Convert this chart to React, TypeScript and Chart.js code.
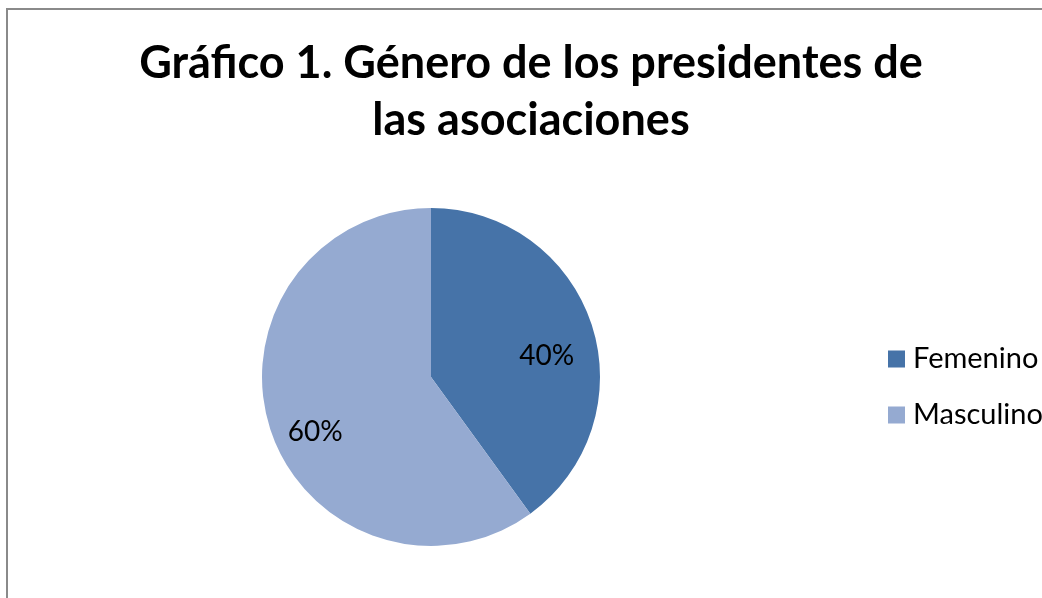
import React, { useEffect, useRef } from "react";
import { Chart, registerables } from "chart.js";

Chart.register(...registerables);

const titleLines = ["Gráfico 1. Género de los presidentes de", "las asociaciones"];
const categories = ["Femenino", "Masculino"];
const values = [40, 60];
const colors = ["#4673A8", "#95AAD1"];
const FONT = "Lato, 'Open Sans', sans-serif";

const titleDraw = {
  id: "titleDraw",
  afterDraw(chart: any) {
    const ctx = chart.ctx;
    const cx = chart.width / 2;
    ctx.save();
    ctx.font = `bold 45px ${FONT}`;
    ctx.fillStyle = "#000";
    ctx.textAlign = "center";
    ctx.textBaseline = "middle";
    titleLines.forEach((t, i) => ctx.fillText(t, cx, 63 + i * 57));
    ctx.restore();
  },
};

const pctLabels = {
  id: "pctLabels",
  afterDatasetsDraw(chart: any) {
    const ctx = chart.ctx;
    const meta = chart.getDatasetMeta(0);
    const data = chart.data.datasets[0].data as number[];
    const total = data.reduce((a, b) => a + b, 0);
    ctx.save();
    ctx.font = `28px ${FONT}`;
    ctx.fillStyle = "#000";
    ctx.textAlign = "center";
    ctx.textBaseline = "middle";
    meta.data.forEach((arc: any, i: number) => {
      const p = arc.getProps(["x", "y", "startAngle", "endAngle", "outerRadius"], true);
      const mid = (p.startAngle + p.endAngle) / 2;
      const r = p.outerRadius * 0.72;
      const x = p.x + Math.cos(mid) * r;
      const y = p.y + Math.sin(mid) * r + 17;
      ctx.fillText(Math.round((data[i] / total) * 100) + "%", x, y);
    });
    ctx.restore();
  },
};

const sideLegend = {
  id: "sideLegend",
  afterDraw(chart: any) {
    const ctx = chart.ctx;
    const x0 = 888;
    const y0 = 359;
    const gap = 56;
    const box = 17;
    ctx.save();
    ctx.font = `29px ${FONT}`;
    ctx.textBaseline = "middle";
    ctx.textAlign = "left";
    categories.forEach((c, i) => {
      const y = y0 + i * gap;
      ctx.fillStyle = colors[i];
      ctx.fillRect(x0, y - box / 2, box, box);
      ctx.fillStyle = "#000";
      ctx.fillText(c, x0 + box + 8, y);
    });
    ctx.restore();
  },
};

export default function App() {
  const ref = useRef<HTMLCanvasElement>(null);
  useEffect(() => {
    if (!ref.current) return;
    const chart = new Chart(ref.current, {
      type: "pie",
      data: {
        labels: categories,
        datasets: [
          {
            data: values,
            backgroundColor: colors,
            borderWidth: 0,
          },
        ],
      },
      options: {
        animation: false,
        responsive: false,
        maintainAspectRatio: false,
        layout: { padding: { left: 262, right: 462, top: 208, bottom: 52 } },
        plugins: {
          legend: { display: false },
          tooltip: { enabled: false },
          title: { display: false },
        },
      },
      plugins: [pctLabels, sideLegend, titleDraw],
    });
    return () => chart.destroy();
  }, []);

  return (
    <div
      style={{
        position: "fixed",
        left: 0,
        top: 0,
        width: 1042,
        height: 598,
        overflow: "hidden",
        background: "#fff",
      }}
    >
      <div
        style={{
          position: "absolute",
          left: 6,
          top: 8,
          width: 1100,
          height: 700,
          border: "2px solid #8a8a8a",
          boxSizing: "border-box",
        }}
      />
      <canvas
        ref={ref}
        width={1062}
        height={598}
        style={{ position: "absolute", left: 0, top: 0, width: 1062, height: 598 }}
      />
    </div>
  );
}
